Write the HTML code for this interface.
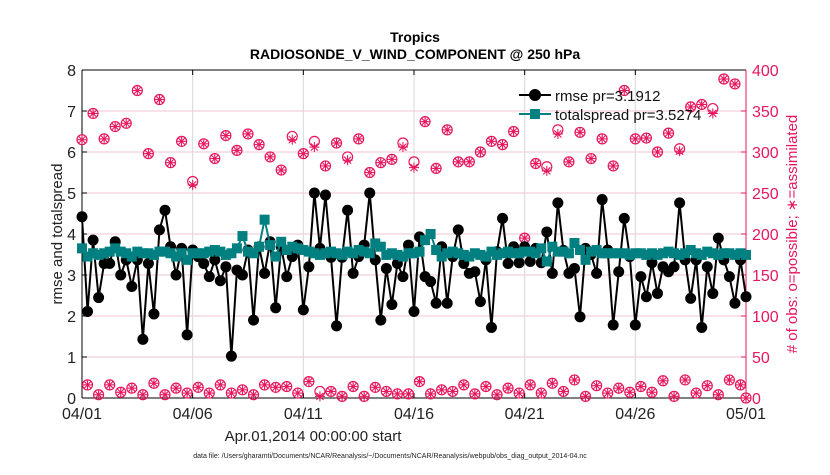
<!DOCTYPE html>
<html><head><meta charset="utf-8"><style>
body{margin:0;background:#fff;}
svg text{font-family:"Liberation Sans",sans-serif;}
</style></head><body>
<svg id="chart" width="830" height="470" viewBox="0 0 830 470" xmlns="http://www.w3.org/2000/svg">
<rect width="830" height="470" fill="#fff"/>
<g id="grid"></g>
<g id="axes"></g>
<g id="obs"></g>
<g id="lines"></g>
<text x="415" y="42" text-anchor="middle" font-size="14" font-weight="bold">Tropics</text>
<text x="415" y="59" text-anchor="middle" font-size="14" font-weight="bold">RADIOSONDE_V_WIND_COMPONENT @ 250 hPa</text>
<text x="313" y="441" text-anchor="middle" font-size="15" fill="#222">Apr.01,2014 00:00:00 start</text>
<text x="390" y="458" text-anchor="middle" font-size="7" fill="#222">data file: /Users/gharamti/Documents/NCAR/Reanalysis/~/Documents/NCAR/Reanalysis/webpub/obs_diag_output_2014-04.nc</text>
<text transform="translate(62,234) rotate(-90)" text-anchor="middle" font-size="15" fill="#222">rmse and totalspread</text>
<text transform="translate(797,234) rotate(-90)" text-anchor="middle" font-size="15" fill="#e6175c"># of obs: o=possible; ∗=assimilated</text>
<g id="legend">
<line x1="519" y1="95" x2="551" y2="95" stroke="#000" stroke-width="2"/>
<circle cx="535" cy="95" r="6" fill="#000"/>
<text x="555" y="101" font-size="15" fill="#111">rmse pr=3.1912</text>
<line x1="519" y1="114" x2="551" y2="114" stroke="#008080" stroke-width="2"/>
<rect x="530" y="109" width="10" height="10" fill="#008080"/>
<text x="555" y="120" font-size="15" fill="#111">totalspread pr=3.5274</text>
</g>
</svg>
<script>
const tickLabels = ["04/01","04/06","04/11","04/16","04/21","04/26","05/01"];
const leftTicks = [0,1,2,3,4,5,6,7,8];
const rightTicks = [0,50,100,150,200,250,300,350,400];
const rmse = [4.42,2.11,3.85,2.45,3.28,3.28,3.81,3.0,3.37,2.72,3.37,1.43,3.28,2.05,4.1,4.58,3.69,3.0,3.65,1.54,3.61,3.45,3.28,2.96,3.37,2.86,3.2,1.02,3.12,3.0,3.61,1.9,3.69,3.04,3.81,2.2,3.69,2.96,3.45,3.73,2.15,
3.2,5.0,3.65,4.95,3.43,1.76,3.43,4.58,3.04,3.45,3.73,5.0,3.37,1.9,3.16,2.28,3.28,2.96,3.73,2.11,3.93,2.96,2.84,2.31,3.69,2.31,3.45,4.1,3.28,3.04,3.08,2.35,3.37,1.72,3.57,4.38,3.28,3.69,3.3,
3.69,3.33,3.65,3.3,4.05,3.04,4.76,3.6,3.04,3.16,1.98,3.65,3.5,3.04,4.84,3.61,1.78,3.08,4.38,3.45,1.78,2.96,2.47,3.3,2.55,3.2,3.08,3.2,4.76,3.37,2.43,3.37,1.72,3.2,2.55,3.9,3.37,2.96,2.31,3.37,2.47];
const totalspread = [3.65,3.45,3.53,3.49,3.53,3.57,3.65,3.57,3.53,3.45,3.57,3.53,3.53,3.49,3.57,3.57,3.53,3.45,3.53,3.37,3.53,3.53,3.53,3.57,3.61,3.57,3.49,3.53,3.65,3.95,3.57,3.53,3.69,4.35,3.73,3.45,3.81,3.61,3.69,3.65,3.61,
3.57,3.53,3.49,3.53,3.57,3.53,3.49,3.57,3.53,3.61,3.57,3.53,3.77,3.69,3.49,3.53,3.49,3.45,3.53,3.53,3.57,3.85,4.0,3.61,3.45,3.53,3.57,3.53,3.49,3.45,3.53,3.49,3.45,3.57,3.49,3.53,3.57,3.53,3.53,
3.57,3.57,3.53,3.65,3.33,3.69,3.57,3.57,3.53,3.78,3.61,3.37,3.57,3.61,3.53,3.53,3.53,3.53,3.53,3.49,3.53,3.53,3.49,3.53,3.49,3.53,3.57,3.53,3.49,3.53,3.61,3.53,3.49,3.57,3.53,3.49,3.53,3.53,3.49,3.53,3.49];
const obsPossible = [315,16,347,4,316,16,331,7,335,12,375,4,298,18,364,4,287,12,313,6,264,13,310,6,292,16,320,6,302,10,322,4,309,16,294,13,278,14,319,6,298,20,313,8,283,8,311,2,294,14,316,2,275,13,287,8,291,5,311,5,288,20,337,5,280,10,327,8,288,16,288,5,300,14,313,4,309,12,325,6,195,16,286,6,282,18,327,8,288,22,324,2,292,15,316,6,283,12,375,7,316,14,317,7,300,21,323,2,304,22,355,6,358,15,353,4,389,22,383,16,0];
const obsAssimilated = [315,16,347,4,316,16,331,7,335,12,375,4,298,18,364,4,287,12,313,6,260,13,310,6,292,16,320,6,302,10,322,4,309,16,294,13,278,14,315,6,298,20,306,2,283,8,311,2,290,14,316,2,275,13,287,8,291,5,306,5,281,20,337,5,280,10,327,8,288,16,288,5,300,14,313,4,309,12,325,6,195,16,286,6,277,18,322,8,288,22,324,2,292,15,316,6,283,12,375,7,316,14,317,7,300,21,323,2,301,22,355,6,358,15,347,4,389,22,383,16,0];

const X0=82, X1=746, Y0=398, Y1=70;
const N = 121;
const xs = i => X0 + (X1-X0)*i/(N-1);
const yL = v => Y0 - (Y0-Y1)*v/8;
const yR = v => Y0 - (Y0-Y1)*v/400;
const NS="http://www.w3.org/2000/svg";
const CR="#e6175c";
function mk(parent, tag, attrs){const e=document.createElementNS(NS,tag);for(const k in attrs)e.setAttribute(k,attrs[k]);parent.appendChild(e);return e;}
const grid=document.getElementById('grid'), axes=document.getElementById('axes'), obs=document.getElementById('obs'), lines=document.getElementById('lines');

leftTicks.forEach(v=>{
  if(v>0&&v<8){const g=mk(grid,'line',{x1:X0,x2:X1,y1:yL(v),y2:yL(v),stroke:'#f2c6d6','stroke-width':1});
  
  }
  mk(axes,'line',{x1:X0,x2:X0+5,y1:yL(v),y2:yL(v),stroke:'#000'});
  const t=mk(axes,'text',{x:X0-6,y:yL(v)+6,'text-anchor':'end','font-size':16,fill:'#222'});
  t.textContent=v;
  
  
});
rightTicks.forEach(v=>{
  mk(axes,'line',{x1:X1-5,x2:X1,y1:yR(v),y2:yR(v),stroke:CR});
  const t=mk(axes,'text',{x:X1+6,y:yR(v)+6,'font-size':16,fill:CR});
  t.textContent=v;
  
  
});
tickLabels.forEach((s,k)=>{
  const x=X0+(X1-X0)*k/(tickLabels.length-1);
  if(k>0&&k<tickLabels.length-1){const g=mk(grid,'line',{x1:x,x2:x,y1:Y1,y2:Y0,stroke:'#d8d8d8'});
  
  }
  mk(axes,'line',{x1:x,x2:x,y1:Y0,y2:Y0-5,stroke:'#000'});
  mk(axes,'line',{x1:x,x2:x,y1:Y1,y2:Y1+5,stroke:'#000'});
  const t=mk(axes,'text',{x:x,y:Y0+21,'text-anchor':'middle','font-size':16,fill:'#222'});
  t.textContent=s;
  
  
});
mk(axes,'line',{x1:X0,x2:X1,y1:Y0,y2:Y0,stroke:'#000'});
mk(axes,'line',{x1:X0,x2:X1,y1:Y1,y2:Y1,stroke:'#000'});
mk(axes,'line',{x1:X0,x2:X0,y1:Y1,y2:Y0,stroke:'#000'});
mk(axes,'line',{x1:X1,x2:X1,y1:Y1,y2:Y0,stroke:CR});

for(let i=0;i<N;i++){
  const x=xs(i);
  const c=mk(obs,'circle',{cx:x,cy:yR(obsPossible[i]),r:5,fill:'none',stroke:CR,'stroke-width':1.2});
  
  
  const y=yR(obsAssimilated[i]);
  const g=mk(obs,'g',{stroke:CR,'stroke-width':1.1});
  
  
  for(let a=0;a<4;a++){const an=a*Math.PI/4;mk(g,'line',{x1:x-5*Math.cos(an),y1:y-5*Math.sin(an),x2:x+5*Math.cos(an),y2:y+5*Math.sin(an)});}
}
const rp=mk(lines,'polyline',{points:rmse.map((v,i)=>xs(i)+','+yL(v)).join(' '),fill:'none',stroke:'#000','stroke-width':2});


rmse.forEach((v,i)=>{
  const c=mk(lines,'circle',{cx:xs(i),cy:yL(v),r:5.5,fill:'#000'});
  
  
});
const sp=mk(lines,'polyline',{points:totalspread.map((v,i)=>xs(i)+','+yL(v)).join(' '),fill:'none',stroke:'#008080','stroke-width':2});


totalspread.forEach((v,i)=>{
  const r=mk(lines,'rect',{x:xs(i)-5,y:yL(v)-5,width:10,height:10,fill:'#008080'});
  
  
});
document.getElementById('chart').appendChild(document.getElementById('legend'));
</script>
</body></html>
